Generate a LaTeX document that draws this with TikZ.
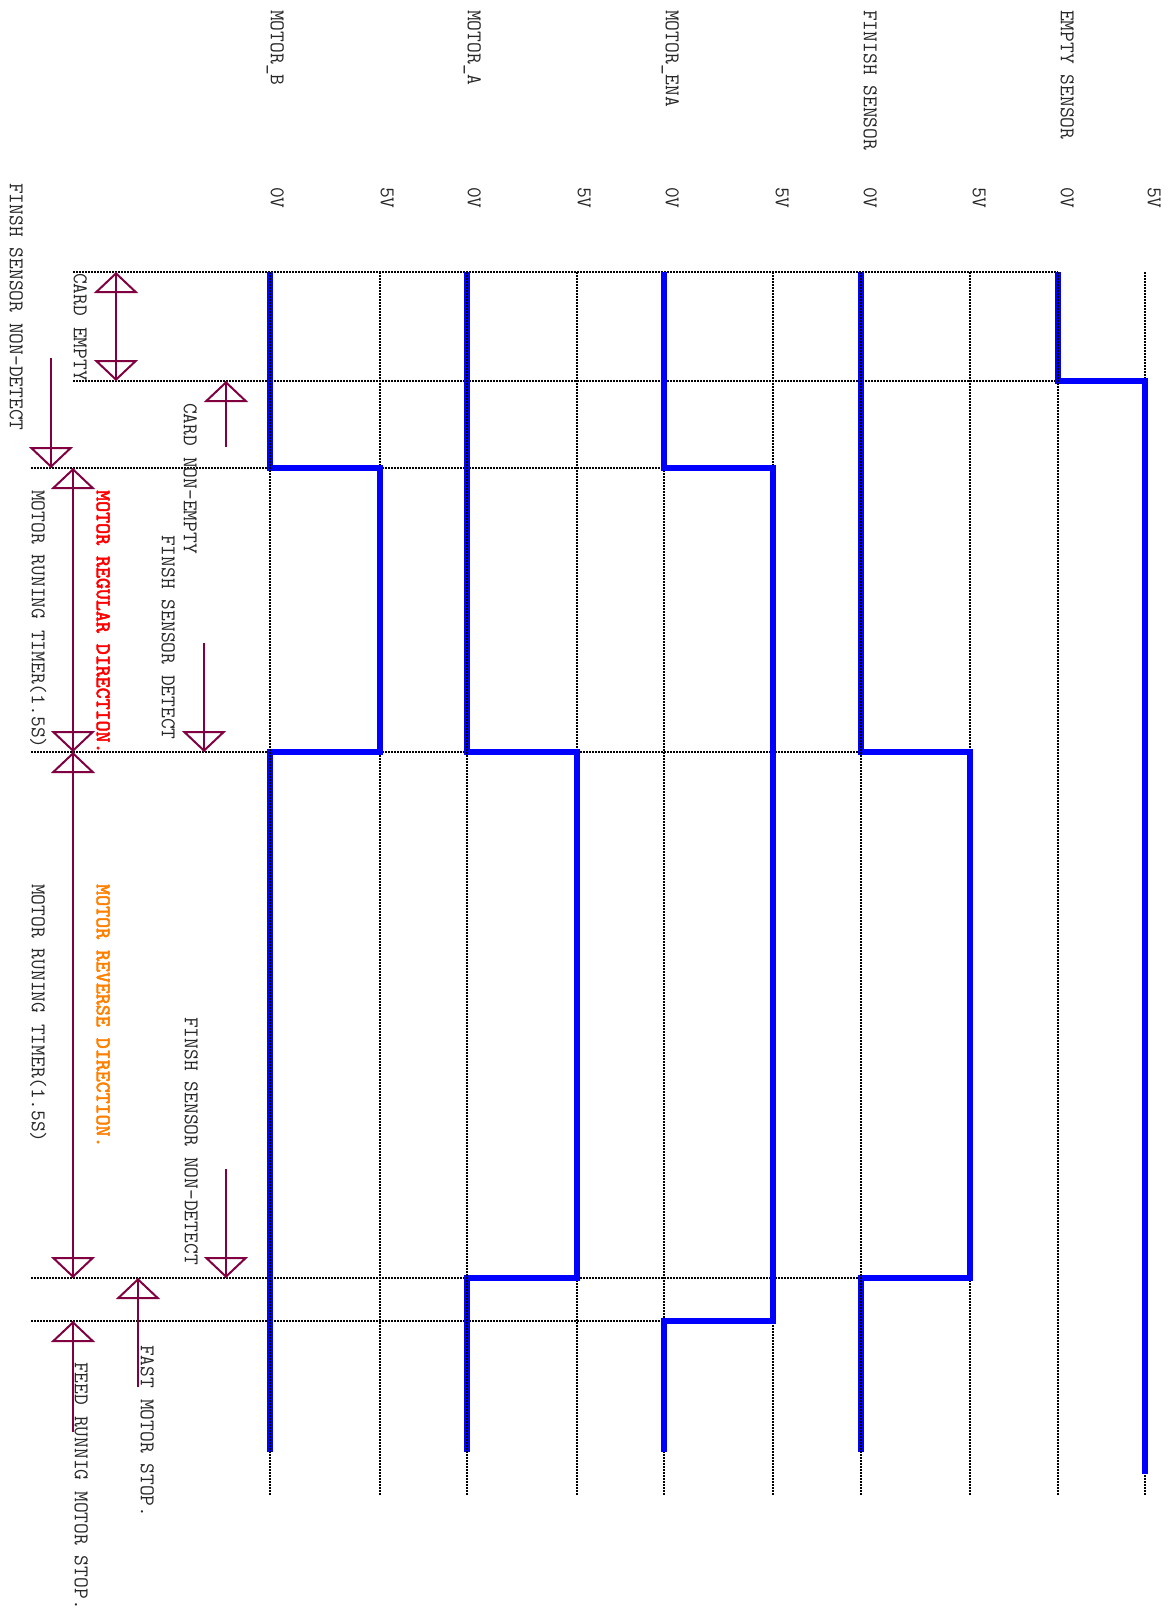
\documentclass[tikz,border=0pt]{standalone}
\usepackage{fontspec}
\usetikzlibrary{arrows.meta}
\newfontfamily\bmono{lmmono10-regular.otf}[FakeBold=2.5]
\definecolor{maroon}{RGB}{128,0,64}
\definecolor{sigblue}{RGB}{0,0,255}
\definecolor{revorange}{RGB}{255,128,0}
\definecolor{regred}{RGB}{255,0,0}
\definecolor{txtgray}{RGB}{40,40,40}
\tikzset{
  otri/.tip={Triangle[open,length=21pt,width=44pt]},
  lbl/.style={rotate=-90, anchor=west, inner sep=0pt, text height=12.5pt, text depth=0pt,
    font=\ttfamily\fontsize{20.9}{24}\selectfont, text=txtgray},
  boldlbl/.style={lbl, font=\bmono\fontsize{20.9}{24}\selectfont},
  gridl/.style={black, line width=1.8pt, dash pattern=on 1.5pt off 1.5pt},
  sig/.style={sigblue, line width=6pt, line join=miter},
  ann/.style={draw=maroon, line width=2pt},
  sarrow/.style={ann, postaction={draw=maroon, -otri}},
  darrow/.style={ann, postaction={draw=maroon, otri-otri}}
}
\begin{document}
\begin{tikzpicture}[x=1pt,y=-1pt]
\useasboundingbox (0,0) rectangle (1171,1614);
% horizontal grid
\foreach \y/\a/\b in {272/73/1058, 381/73/1058, 468/31/773, 752/31/970, 1278/31/970, 1321/31/773}
  \draw[gridl] (\a,\y) -- (\b,\y);
% vertical grid under signals
\foreach \x in {380,577,664,773,970,1145}
  \draw[gridl] (\x,272) -- (\x,1495);
% signals
\draw[sig] (1058,272) -- (1058,381) -- (1145,381) -- (1145,1474);
\draw[sig] (861,272) -- (861,752) -- (970,752) -- (970,1278) -- (861,1278) -- (861,1452);
\draw[sig] (664,272) -- (664,468) -- (773,468) -- (773,1321) -- (664,1321) -- (664,1452);
\draw[sig] (467,272) -- (467,752) -- (577,752) -- (577,1278) -- (467,1278) -- (467,1452);
\draw[sig] (270,272) -- (270,468) -- (380,468) -- (380,752) -- (270,752) -- (270,1452);
% vertical grid over signals
\foreach \x in {270,467,861,1058}
  \draw[gridl] (\x,272) -- (\x,1495);
% signal names
\node[lbl] (nE) at (1067,10) {EMPTY SENSOR};
\node[lbl] (nF) at (870,10) {FINISH SENSOR};
\node[lbl] (nEN) at (672,10) {MOTOR\_ENA};
\node[lbl] (nA) at (474,10) {MOTOR\_A};
\node[lbl] (nB) at (277,10) {MOTOR\_B};
% voltage labels
\node[lbl] (vE5) at (1154,187) {5V};
\node[lbl] (vE0) at (1067,187) {0V};
\node[lbl] (vF5) at (979,187) {5V};
\node[lbl] (vF0) at (870,187) {0V};
\node[lbl] (vN5) at (782,187) {5V};
\node[lbl] (vN0) at (672,187) {0V};
\node[lbl] (vA5) at (584,187) {5V};
\node[lbl] (vA0) at (474,187) {0V};
\node[lbl] (vB5) at (387,187) {5V};
\node[lbl] (vB0) at (277,187) {0V};
% annotation texts
\node[lbl] (t1) at (16,183) {FINSH SENSOR NON-DETECT};
\node[lbl] (t2) at (80,273) {CARD EMPTY};
\node[lbl] (t3) at (190,403) {CARD NON-EMPTY};
\node[lbl] (t4) at (168,535) {FINSH SENSOR DETECT};
\node[boldlbl, text=regred] (t5) at (103,490) {MOTOR REGULAR DIRECTION.};
\node[lbl] (t6) at (38,490) {MOTOR RUNING TIMER(1.5S)};
\node[boldlbl, text=revorange] (t7) at (103,884) {MOTOR REVERSE DIRECTION.};
\node[lbl] (t8) at (38,884) {MOTOR RUNING TIMER(1.5S)};
\node[lbl] (t9) at (191,1017) {FINSH SENSOR NON-DETECT};
\node[lbl] (t10) at (147,1345) {FAST MOTOR STOP.};
\node[lbl] (t11) at (81,1362) {FEED RUNNIG MOTOR STOP.};
% arrow end points
\coordinate (ceT) at (116,272);
\coordinate (ceB) at (116,381);
\coordinate (cnTail) at (226,447);
\coordinate (cnTip) at (226,381);
\coordinate (fdTail) at (204,643);
\coordinate (fdTip) at (204,752);
\coordinate (fnTail) at (51,358);
\coordinate (fnTip) at (51,468);
\coordinate (rgT) at (73,468);
\coordinate (rgB) at (73,752);
\coordinate (rvB) at (73,1278);
\coordinate (fn2Tail) at (226,1169);
\coordinate (fn2Tip) at (226,1278);
\coordinate (fsTail) at (138,1387);
\coordinate (fsTip) at (138,1278);
\coordinate (frTail) at (73,1432);
\coordinate (frTip) at (73,1321);
% arrows
\draw[darrow] (ceT) -- (ceB);
\draw[sarrow] (cnTail) -- (cnTip);
\draw[sarrow] (fdTail) -- (fdTip);
\draw[sarrow] (fnTail) -- (fnTip);
\draw[darrow] (rgT) -- (rgB);
\draw[darrow] (rgB) -- (rvB);
\draw[sarrow] (fn2Tail) -- (fn2Tip);
\draw[sarrow] (fsTail) -- (fsTip);
\draw[sarrow] (frTail) -- (frTip);
\end{tikzpicture}
\end{document}
